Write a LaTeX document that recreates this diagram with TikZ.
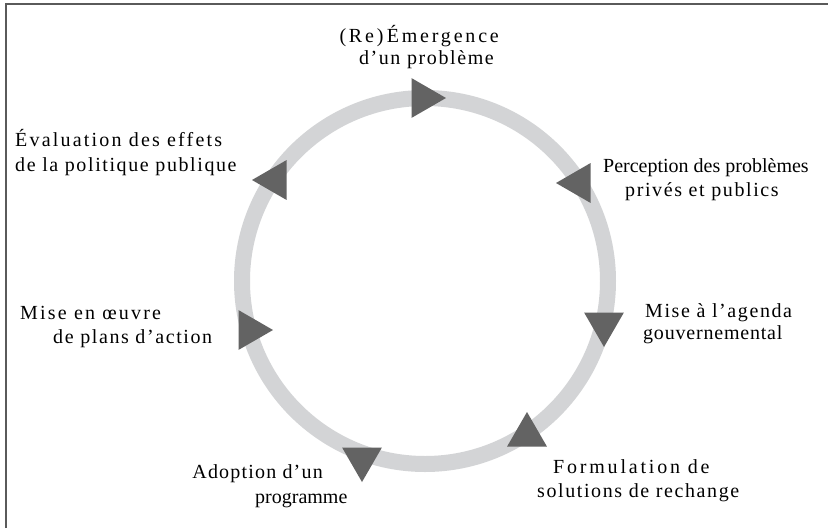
\documentclass[tikz,border=0pt]{standalone}
\usepackage{fontspec}
\setmainfont{Liberation Serif}
\usetikzlibrary{shapes.geometric}
\definecolor{ringgray}{HTML}{D3D4D6}
\definecolor{trigray}{HTML}{636363}
\definecolor{framegray}{HTML}{5A5A5A}
\newcommand\trk[2]{{\addfontfeature{LetterSpace=#1}#2}}
\tikzset{
  tri/.style={regular polygon, regular polygon sides=3, fill=trigray, draw=none, minimum size=46pt, inner sep=0pt},
  lbl/.style={inner sep=0pt, font=\fontsize{20}{24}\selectfont},
}
\begin{document}
\begin{tikzpicture}[x=1pt,y=-1pt]
\useasboundingbox (0,0) rectangle (828,528);
\fill[white] (0,0) rectangle (828,528);
\draw[framegray, line width=1.6pt] (6,528) -- (6,4) -- (830,4);
\draw[ringgray, line width=16pt] (425,281) circle[radius=183pt];
% triangles
\node[tri, rotate=-90] (t1) at (423,98) {};
\node[tri, rotate=90] (t2) at (579,183) {};
\node[tri, rotate=180] (t3) at (604,324) {};
\node[tri] (t4) at (527,435) {};
\node[tri, rotate=180] (t5) at (362,459) {};
\node[tri, rotate=-90] (t6) at (250,330) {};
\node[tri, rotate=90] (t7) at (275,180) {};
% labels
\node[lbl, anchor=base east] (a1) at (499,42) {\trk{14}{(Re)\,Émergence}};
\node[lbl, anchor=base east] (a2) at (494,64) {\trk{8}{d’un problème}};
\node[lbl, anchor=base west] (b1) at (15,146) {\trk{11}{Évaluation des effets}};
\node[lbl, anchor=base west] (b2) at (15,171) {\trk{8}{de la politique publique}};
\node[lbl, anchor=base west] (c1) at (603,172) {Perception des problèmes};
\node[lbl, anchor=base west] (c2) at (625,196) {\trk{8}{privés et publics}};
\node[lbl, anchor=base west] (d1) at (645,317) {\trk{8}{Mise à l’agenda}};
\node[lbl, anchor=base west] (d2) at (643,339) {\trk{4}{gouvernemental}};
\node[lbl, anchor=base west] (e1) at (553,473) {\trk{14}{Formulation de}};
\node[lbl, anchor=base west] (e2) at (537,497) {\trk{8}{solutions de rechange}};
\node[lbl, anchor=base east] (f1) at (323,478) {\trk{6}{Adoption d’un}};
\node[lbl, anchor=base west] (f2) at (255,503) {programme};
\node[lbl, anchor=base west] (g1) at (20,319) {\trk{11}{Mise en œuvre}};
\node[lbl, anchor=base west] (g2) at (53,343) {\trk{8}{de plans d’action}};
\end{tikzpicture}
\end{document}
